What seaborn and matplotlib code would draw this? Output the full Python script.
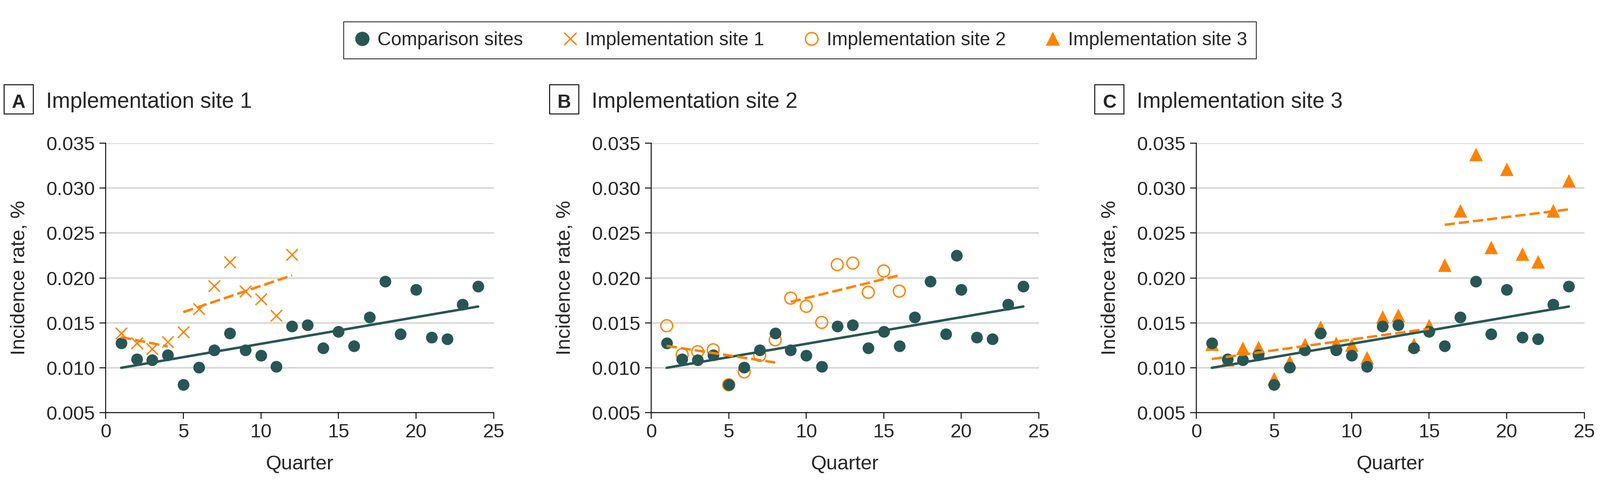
import matplotlib

matplotlib.use("Agg")
import matplotlib.pyplot as plt
import numpy as np
import pandas as pd
import seaborn as sns
from matplotlib.lines import Line2D
from matplotlib.patches import Rectangle
from matplotlib.ticker import FormatStrFormatter

# comparison sites, quarters 1-24 (same in every panel)
comparison_quarter = list(range(1, 25))
comparison_rate = [0.01274, 0.01095, 0.01084, 0.01141, 0.0081, 0.01004, 0.01196, 0.01385,
                   0.01194, 0.01137, 0.01011, 0.01463, 0.01474, 0.01221, 0.01404, 0.01242,
                   0.01562, 0.01962, 0.01375, 0.01868, 0.01337, 0.01322, 0.01706, 0.01906]
# one extra comparison point only shown in panel B
extra_b_quarter = [19.7]
extra_b_rate = [0.0225]

# implementation site 1
site1_pre_quarter = [1, 2, 3, 4]
site1_pre_rate = [0.01383, 0.01274, 0.01211, 0.01289]
site1_post_quarter = [5, 6, 7, 8, 9, 10, 11, 12]
site1_post_rate = [0.01396, 0.01653, 0.0191, 0.02175, 0.01853, 0.01765, 0.01579, 0.02259]

# implementation site 2
site2_pre_quarter = [1, 2, 3, 4, 5, 6, 7, 8]
site2_pre_rate = [0.01468, 0.01147, 0.01179, 0.0120, 0.0081, 0.00954, 0.01137, 0.0131]
site2_post_quarter = [9, 10, 11, 12, 13, 14, 15, 16]
site2_post_rate = [0.01775, 0.01684, 0.01505, 0.02148, 0.02165, 0.0184, 0.02078, 0.01853]

# implementation site 3
site3_pre_quarter = list(range(1, 16))
site3_pre_rate = [0.01265, 0.0109, 0.01219, 0.01229, 0.00882, 0.01067, 0.01261, 0.01451,
                  0.01276, 0.01255, 0.01114, 0.01567, 0.01584, 0.01261, 0.01472]
site3_post_quarter = list(range(16, 25))
site3_post_rate = [0.02142, 0.02748, 0.03378, 0.02342, 0.03211, 0.02266, 0.02182, 0.02748, 0.03081]

panel_letters = ["A", "B", "C"]
panel_titles = ["Implementation site 1", "Implementation site 2", "Implementation site 3"]
legend_labels = ["Comparison sites", "Implementation site 1", "Implementation site 2", "Implementation site 3"]

DARK = "#285654"
ORANGE = "#FF8200"
W, H = 3892, 1208

sns.set_style("white")
plt.rcParams["font.family"] = ["Liberation Sans", "DejaVu Sans"]

fig = plt.figure(figsize=(W / 100, H / 100), dpi=100)
axes_left_px = [257, 1584, 2910]
axes_width_px = [944, 943, 944]
ax_top_px, ax_bottom_px = 348, 1003

sites = [
    (site1_pre_quarter, site1_pre_rate, site1_post_quarter, site1_post_rate,
     dict(marker="x", s=400, color=ORANGE, linewidths=2.4)),
    (site2_pre_quarter, site2_pre_rate, site2_post_quarter, site2_post_rate,
     dict(marker="o", s=430, facecolor="none", edgecolor=ORANGE, linewidth=2.4)),
    (site3_pre_quarter, site3_pre_rate, site3_post_quarter, site3_post_rate,
     dict(marker="^", s=560, color=ORANGE, linewidth=0)),
]

comp = pd.DataFrame({"quarter": comparison_quarter, "rate": comparison_rate})

for i in range(3):
    left = axes_left_px[i]
    box = [left / W, 1 - ax_bottom_px / H, axes_width_px[i] / W, (ax_bottom_px - ax_top_px) / H]
    ax = fig.add_axes(box)
    pre_q, pre_r, post_q, post_r, style = sites[i]
    site = pd.DataFrame({"quarter": pre_q + post_q, "rate": pre_r + post_r})

    sns.scatterplot(data=site, x="quarter", y="rate", ax=ax, zorder=2, **style)
    sns.scatterplot(data=comp, x="quarter", y="rate", ax=ax, s=420, color=DARK,
                    linewidth=0, zorder=3)
    if i == 1:
        sns.scatterplot(x=extra_b_quarter, y=extra_b_rate, ax=ax, s=420, color=DARK,
                        linewidth=0, zorder=3)

    sns.regplot(data=comp, x="quarter", y="rate", ax=ax, scatter=False, ci=None,
                truncate=True, line_kws=dict(color=DARK, lw=4.3, zorder=4))
    for q, r in [(pre_q, pre_r), (post_q, post_r)]:
        sns.regplot(x=np.array(q, dtype=float), y=np.array(r), ax=ax, scatter=False, ci=None,
                    truncate=True,
                    line_kws=dict(color=ORANGE, lw=4.3, dashes=(4.2, 1.6), zorder=5))

    ax.set_xlim(0, 25)
    ax.set_ylim(0.005, 0.035)
    ax.set_xticks(range(0, 26, 5))
    ax.set_yticks(np.arange(0.005, 0.0351, 0.005))
    ax.yaxis.set_major_formatter(FormatStrFormatter("%.3f"))
    ax.grid(axis="y", color="#D9D9D9", lw=3)
    ax.grid(axis="x", visible=False)
    ax.set_axisbelow(True)
    for side in ["top", "right"]:
        ax.spines[side].set_visible(False)
    for side in ["left", "bottom"]:
        ax.spines[side].set_color("black")
        ax.spines[side].set_linewidth(1.6)
    ax.tick_params(axis="both", which="major", length=11, width=1.6, color="black",
                   labelsize=34, pad=8, direction="out", left=True, bottom=True)

    ax.set_xlabel("Quarter", fontsize=35)
    ax.xaxis.set_label_coords(0.5, -0.158)
    ax.set_ylabel("Incidence rate, %", fontsize=35)
    ax.yaxis.set_label_coords(-0.198, 0.5)

    # panel letter box and title
    bx0, bx1, by0, by1 = left - 247, left - 176, 206, 277
    fig.patches.append(Rectangle((bx0 / W, 1 - by1 / H), (bx1 - bx0) / W, (by1 - by0) / H,
                                 transform=fig.transFigure, fill=False, ec="black", lw=1.6))
    fig.text((bx0 + bx1) / 2 / W, 1 - 262 / H, panel_letters[i], fontsize=33,
             fontweight="bold", ha="center", va="baseline")
    fig.text((left - 145) / W, 1 - 262 / H, panel_titles[i], fontsize=38, ha="left",
             va="baseline")

handles = [
    Line2D([], [], ls="none", marker="o", ms=25, color=DARK, mew=0),
    Line2D([], [], ls="none", marker="x", ms=21, color=ORANGE, mew=2.4),
    Line2D([], [], ls="none", marker="o", ms=22, mfc="none", mec=ORANGE, mew=2.4),
    Line2D([], [], ls="none", marker="^", ms=25, color=ORANGE, mew=0),
]
leg = fig.legend(handles, legend_labels, loc="center", bbox_to_anchor=(0.5, 1 - 98 / H), ncol=4,
                 fontsize=33, frameon=True, fancybox=False, edgecolor="black",
                 handletextpad=0.3, columnspacing=2.0, borderpad=0.5, handlelength=1.0)
leg.get_frame().set_linewidth(1.6)

fig.savefig("out.png", dpi=100)
